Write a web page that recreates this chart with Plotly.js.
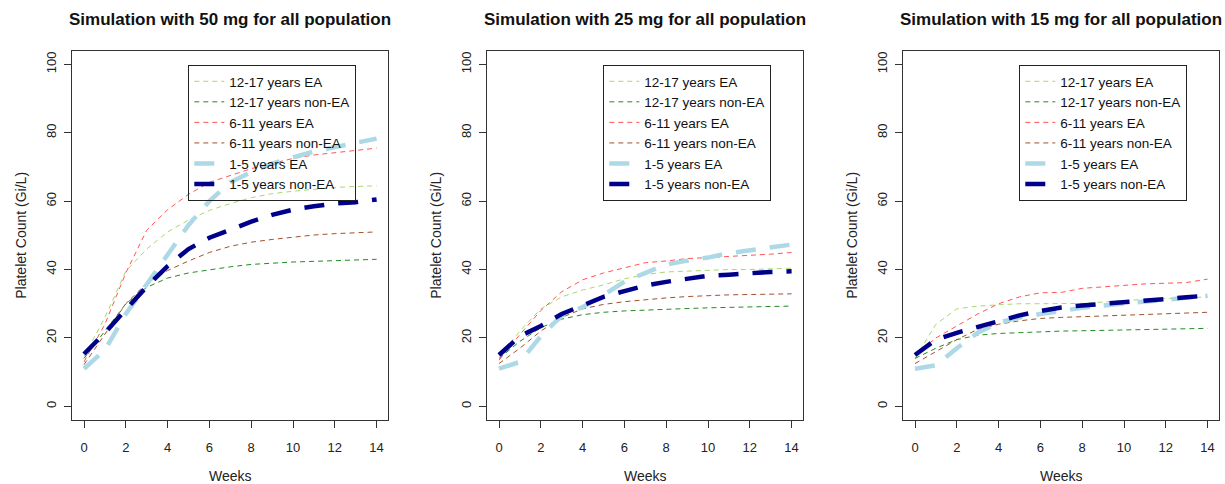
<!DOCTYPE html>
<html>
<head>
<meta charset="utf-8">
<script src="https://cdn.plot.ly/plotly-3.0.1.min.js"></script>
<style>html,body{margin:0;padding:0;background:#fff}#chart{width:1225px;height:484px}</style>
</head>
<body>
<div id="chart"></div>
<script>
// ---- data ----
const weeks = [0, 1, 2, 3, 4, 5, 6, 7, 8, 9, 10, 11, 12, 13, 14];
const seriesNames = ["12-17 years EA", "12-17 years non-EA", "6-11 years EA", "6-11 years non-EA", "1-5 years EA", "1-5 years non-EA"];
const panelTitles = ["Simulation with 50 mg for all population", "Simulation with 25 mg for all population", "Simulation with 15 mg for all population"];
const xTickVals = [0, 2, 4, 6, 8, 10, 12, 14];
const yTickVals = [0, 20, 40, 60, 80, 100];

// 50 mg
const d50_ea1217  = [14.5, 26, 39.5, 46, 51, 54.5, 57.3, 59.3, 61, 62.2, 62.9, 63.5, 64, 64.3, 64.5];
const d50_non1217 = [14, 22, 30, 34.8, 37.5, 39, 40, 40.8, 41.5, 41.9, 42.2, 42.4, 42.6, 42.8, 43];
const d50_ea611   = [13, 24, 39, 51.5, 57.5, 62, 65.5, 67.5, 69.5, 71, 72.5, 73.5, 74.2, 74.8, 75.5];
const d50_non611  = [12.2, 21, 30, 36, 39.7, 42.5, 45, 46.8, 48, 48.8, 49.5, 50.1, 50.5, 50.8, 51];
const d50_ea15    = [11, 16.5, 27, 35.7, 44.5, 53, 60, 65.5, 68.5, 71, 72.8, 74.5, 75.8, 77, 78.3];
const d50_non15   = [15.3, 21.5, 28.3, 35, 41, 46, 49.3, 51.8, 54, 56, 57.5, 58.5, 59.3, 59.7, 60.5];
// 25 mg
const d25_ea1217  = [14.5, 22, 28.5, 32, 34, 35.5, 37.3, 38.5, 39.3, 39.6, 39.8, 40, 40, 40.2, 40.4];
const d25_non1217 = [14, 19, 23, 25.5, 26.8, 27.5, 27.9, 28.2, 28.4, 28.6, 28.8, 29, 29.1, 29.2, 29.3];
const d25_ea611   = [13.5, 21, 28, 33.5, 37, 39, 40.5, 42, 42.5, 43.2, 43.5, 43.8, 44.1, 44.5, 45];
const d25_non611  = [12.5, 17, 22, 26, 28.5, 29.8, 30.6, 31.2, 31.7, 32.1, 32.4, 32.6, 32.7, 32.8, 32.9];
const d25_ea15    = [11, 13, 20.5, 26.5, 29, 32.5, 36.5, 39, 41.5, 42.6, 43.5, 44.8, 45.7, 46.5, 47.3];
const d25_non15   = [15, 20.5, 23.5, 27, 29.5, 32, 33.7, 35.3, 36.4, 37.4, 38.2, 38.5, 39, 39.3, 39.5];
// 15 mg
const d15_ea1217  = [14, 24, 28.5, 29.3, 29.7, 30, 30, 30, 30.1, 30.5, 31, 31.3, 31.5, 31.7, 32];
const d15_non1217 = [14, 17, 19.5, 20.8, 21.3, 21.6, 21.9, 22, 22.1, 22.2, 22.4, 22.5, 22.6, 22.7, 22.8];
const d15_ea611   = [15, 20, 23.5, 27, 30, 32, 33.2, 33.3, 34.5, 35, 35.5, 35.8, 36, 36.2, 37.2];
const d15_non611  = [12.5, 16, 19.5, 22.5, 24, 25, 25.7, 26, 26.2, 26.4, 26.6, 26.8, 27, 27.2, 27.5];
const d15_ea15    = [11, 12, 17, 21.5, 24.5, 26, 27, 28, 28.8, 29.5, 30, 30.8, 31.2, 31.8, 32.3];
const d15_non15   = [15, 19.5, 21.5, 23.3, 25, 26.6, 27.9, 28.9, 29.5, 29.9, 30.4, 30.9, 31.4, 31.9, 32.4];

const panels = [
  [d50_ea1217, d50_non1217, d50_ea611, d50_non611, d50_ea15, d50_non15],
  [d25_ea1217, d25_non1217, d25_ea611, d25_non611, d25_ea15, d25_non15],
  [d15_ea1217, d15_non1217, d15_ea611, d15_non611, d15_ea15, d15_non15]
];

// ---- styles ----
const colors = ["#A8D86E", "#228B22", "#FF5555", "#A0522D", "#ADD8E6", "#00008B"];
const widths = [1, 1, 1, 1, 4.5, 4.5];
const dashes = ["5px,4px", "5px,4px", "5px,4px", "5px,4px", "20px,14px", "20px,14px"];

const W = 1225, H = 484;
const FONT = "Liberation Sans, Arial, Helvetica, sans-serif";
const plotLeft = [72.3, 487.3, 903.3];
const plotWidth = 316;
const plotTop = 50.7, plotBottom = 420;

const traces = [];
panels.forEach((series, p) => {
  const sfx = p === 0 ? "" : String(p + 1);
  series.forEach((vals, s) => {
    traces.push({
      x: weeks, y: vals, type: "scatter", mode: "lines",
      name: seriesNames[s],
      xaxis: "x" + sfx, yaxis: "y" + sfx,
      legend: "legend" + sfx,
      line: {color: colors[s], width: widths[s], dash: dashes[s]},
      hoverinfo: "skip"
    });
  });
});

const layout = {
  width: W, height: H,
  margin: {l: 0, r: 0, t: 0, b: 0},
  paper_bgcolor: "#fff", plot_bgcolor: "#fff",
  font: {family: FONT, color: "#111", size: 13},
  showlegend: true,
  annotations: []
};

for (let p = 0; p < 3; p++) {
  const sfx = p === 0 ? "" : String(p + 1);
  layout["xaxis" + sfx] = {
    domain: [plotLeft[p] / W, (plotLeft[p] + plotWidth) / W],
    anchor: "y" + sfx,
    range: [-0.56, 14.56],
    tickvals: xTickVals,
    ticks: "outside", ticklen: 7, tickwidth: 1, tickcolor: "#333",
    ticklabelstandoff: 8,
    showline: true, mirror: true, linecolor: "#333", linewidth: 1,
    showgrid: false, zeroline: false,
    tickfont: {size: 13, color: "#222", family: FONT},
    title: {text: "Weeks", font: {size: 14, color: "#222", family: FONT}, standoff: 24},
    automargin: false, fixedrange: true
  };
  layout["yaxis" + sfx] = {
    domain: [1 - plotBottom / H, 1 - plotTop / H],
    anchor: "x" + sfx,
    range: [-4, 104],
    tickvals: yTickVals,
    tickangle: -90,
    ticks: "outside", ticklen: 7, tickwidth: 1, tickcolor: "#333",
    ticklabelstandoff: 3,
    showline: true, mirror: true, linecolor: "#333", linewidth: 1,
    showgrid: false, zeroline: false,
    tickfont: {size: 13, color: "#222", family: FONT},
    title: {text: "Platelet Count (Gi/L)", font: {size: 14, color: "#222", family: FONT}, standoff: 14},
    automargin: false, fixedrange: true
  };
  layout["legend" + sfx] = {
    x: (plotLeft[p] + 116) / W, y: 1 - 65 / H,
    xanchor: "left", yanchor: "top",
    bgcolor: "rgba(255,255,255,0)",
    bordercolor: "#222", borderwidth: 1,
    font: {size: 13.5, color: "#111", family: FONT},
    traceorder: "normal"
  };
  layout.annotations.push({
    text: "<b>" + panelTitles[p] + "</b>",
    xref: "paper", yref: "paper",
    x: (plotLeft[p] + plotWidth / 2) / W, y: 1 - 20 / H,
    xanchor: "center", yanchor: "middle",
    showarrow: false,
    font: {size: 17, color: "#111", family: FONT}
  });
}

Plotly.newPlot("chart", traces, layout, {displayModeBar: false, staticPlot: true});
</script>
</body>
</html>
